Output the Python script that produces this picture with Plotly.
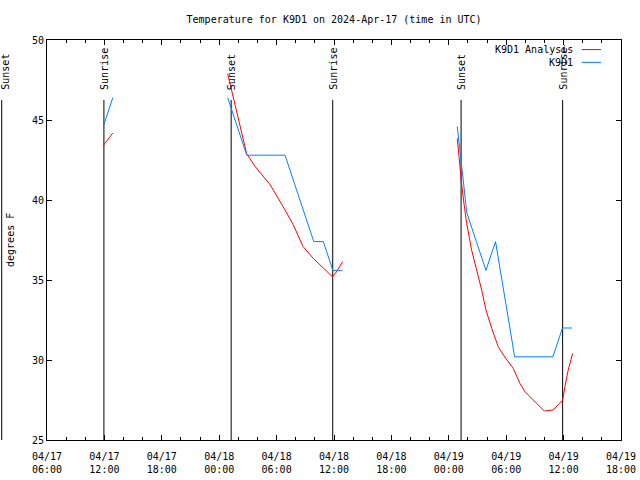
import plotly.graph_objects as go
import pandas as pd

title_text = "Temperature for K9D1 on 2024-Apr-17 (time in UTC)"
y_title = "degrees F"

# K9D1 observations (deg F); None marks a gap
obs_times = [
    "2024-04-17 11:53", "2024-04-17 12:53", None,
    "2024-04-18 00:53", "2024-04-18 01:53", "2024-04-18 02:53", "2024-04-18 03:53",
    "2024-04-18 04:53", "2024-04-18 05:53", "2024-04-18 06:53", "2024-04-18 07:53",
    "2024-04-18 08:53", "2024-04-18 09:53", "2024-04-18 10:53", "2024-04-18 11:53",
    "2024-04-18 12:53", None,
    "2024-04-19 00:53", "2024-04-19 01:53", "2024-04-19 02:53", "2024-04-19 03:53",
    "2024-04-19 04:53", "2024-04-19 05:53", "2024-04-19 06:53", "2024-04-19 07:53",
    "2024-04-19 08:53", "2024-04-19 09:53", "2024-04-19 10:53", "2024-04-19 11:53",
    "2024-04-19 12:53",
]
obs_temps = [
    44.6, 46.4, None,
    46.4, 44.6, 42.8, 42.8,
    42.8, 42.8, 42.8, 41.0,
    39.2, 37.4, 37.4, 35.6,
    35.6, None,
    44.6, 39.2, 37.4, 35.6,
    37.4, 33.8, 30.2, 30.2,
    30.2, 30.2, 30.2, 32.0,
    32.0,
]

# K9D1 Analysis (deg F)
ana_times = [
    "2024-04-17 11:53", "2024-04-17 12:53", None,
    "2024-04-18 00:53", "2024-04-18 01:53", "2024-04-18 02:52", "2024-04-18 03:45",
    "2024-04-18 04:50", "2024-04-18 05:20", "2024-04-18 06:40", "2024-04-18 07:45",
    "2024-04-18 08:45", "2024-04-18 09:50", "2024-04-18 10:53", "2024-04-18 11:50",
    "2024-04-18 12:15", "2024-04-18 12:55", None,
    "2024-04-19 00:53", "2024-04-19 01:10", "2024-04-19 01:21", "2024-04-19 01:35",
    "2024-04-19 01:52", "2024-04-19 02:23", "2024-04-19 02:55", "2024-04-19 03:26",
    "2024-04-19 03:53", "2024-04-19 04:29", "2024-04-19 05:10", "2024-04-19 05:52",
    "2024-04-19 06:44", "2024-04-19 07:26", "2024-04-19 07:58", "2024-04-19 08:40",
    "2024-04-19 09:21", "2024-04-19 09:59", "2024-04-19 10:55", "2024-04-19 11:27",
    "2024-04-19 11:54", "2024-04-19 12:08", "2024-04-19 12:29", "2024-04-19 12:57",
]
ana_temps = [
    43.4, 44.2, None,
    47.9, 45.4, 42.9, 42.1,
    41.35, 40.95, 39.6, 38.45,
    37.1, 36.35, 35.75, 35.2,
    35.5, 36.15, None,
    43.85, 41.98, 40.94, 39.79,
    38.54, 36.88, 35.63, 34.38,
    33.13, 31.98, 30.83, 30.17,
    29.48, 28.54, 28.02, 27.6,
    27.19, 26.81, 26.88, 27.19,
    27.5, 28.33, 29.38, 30.42,
]

sun_times = ["2024-04-17 01:16", "2024-04-17 11:57", "2024-04-18 01:15",
             "2024-04-18 11:52", "2024-04-19 01:17", "2024-04-19 11:54"]
sun_labels = ["Sunset", "Sunrise", "Sunset", "Sunrise", "Sunset", "Sunrise"]

x_range = ["2024-04-17 06:00", "2024-04-19 18:00"]
x_tick_vals = ["2024-04-17 06:00", "2024-04-17 12:00", "2024-04-17 18:00",
               "2024-04-18 00:00", "2024-04-18 06:00", "2024-04-18 12:00",
               "2024-04-18 18:00", "2024-04-19 00:00", "2024-04-19 06:00",
               "2024-04-19 12:00", "2024-04-19 18:00"]
x_tick_text = ["04/17<br>06:00", "04/17<br>12:00", "04/17<br>18:00",
               "04/18<br>00:00", "04/18<br>06:00", "04/18<br>12:00",
               "04/18<br>18:00", "04/19<br>00:00", "04/19<br>06:00",
               "04/19<br>12:00", "04/19<br>18:00"]
y_range = [25, 50]
y_ticks = [25, 30, 35, 40, 45, 50]

series_names = ["K9D1 Analysis", "K9D1"]
series_colors = ["#ff0000", "#0080ff"]

FONT = "DejaVu Sans Mono"

fig = go.Figure()
fig.add_trace(go.Scatter(x=ana_times, y=ana_temps, mode="lines", name=series_names[0],
                         line=dict(color=series_colors[0], width=1), connectgaps=False))
fig.add_trace(go.Scatter(x=obs_times, y=obs_temps, mode="lines", name=series_names[1],
                         line=dict(color=series_colors[1], width=1), connectgaps=False))

t0 = pd.Timestamp(x_range[0])
t1 = pd.Timestamp(x_range[1])
for t, lab in zip(sun_times, sun_labels):
    ts = pd.Timestamp(t)
    frac = (ts - t0) / (t1 - t0)
    if 0 <= frac <= 1:
        xref, xv, shift = "x", t, 0
    else:
        xref, xv, shift = "paper", frac, 3
    fig.add_shape(type="line", xref=xref, yref="paper", x0=xv, x1=xv, y0=0, y1=0.85,
                  line=dict(color="black", width=1), layer="below")
    fig.add_annotation(xref=xref, yref="paper", x=xv, y=0.87, text=lab, showarrow=False,
                       textangle=-90, xanchor="center", yanchor="bottom", xshift=shift,
                       font=dict(family=FONT, size=10, color="black"))

# manual legend (text left of sample line)
leg_y = [0.976, 0.944]
for name, col, ly in zip(series_names, series_colors, leg_y):
    fig.add_annotation(xref="paper", yref="paper", x=0.9195, y=ly, text=name,
                       showarrow=False, xanchor="right", yanchor="middle",
                       font=dict(family=FONT, size=10, color="black"))
    fig.add_shape(type="line", xref="paper", yref="paper", x0=0.9315, x1=0.9652,
                  y0=ly, y1=ly, line=dict(color=col, width=1))

fig.add_annotation(xref="paper", yref="paper", x=-0.0645, y=0.5, text=y_title,
                   showarrow=False, textangle=-90, xanchor="center", yanchor="middle",
                   font=dict(family=FONT, size=10, color="black"))

fig.update_layout(
    width=640, height=480,
    margin=dict(l=47, r=19, t=40, b=40, autoexpand=False),
    paper_bgcolor="white", plot_bgcolor="white",
    showlegend=False,
    title=dict(text=title_text, x=0.522, y=0.96, xanchor="center", yanchor="middle",
               font=dict(family=FONT, size=10, color="black")),
    font=dict(family=FONT, size=10, color="black"),
)
fig.update_xaxes(type="date", range=x_range, tickmode="array", tickvals=x_tick_vals,
                 ticktext=x_tick_text, ticks="inside", ticklen=5, tickcolor="black",
                 showline=True, linecolor="black", linewidth=1, mirror="ticks",
                 showgrid=False, zeroline=False, automargin=False, ticklabelstandoff=7,
                 minor=dict(dtick=2 * 3600 * 1000, ticks="inside", ticklen=3,
                            tickcolor="black", showgrid=False),
                 tickfont=dict(family=FONT, size=10, color="black"))
fig.update_yaxes(range=y_range, tickmode="array", tickvals=y_ticks,
                 ticks="inside", ticklen=5, tickcolor="black",
                 showline=True, linecolor="black", linewidth=1, mirror="ticks",
                 showgrid=False, zeroline=False, automargin=False,
                 tickfont=dict(family=FONT, size=10, color="black"))

fig.write_html("out.html", config={"displayModeBar": False},
               post_script="document.body.style.margin='0px';document.body.style.overflow='hidden';")
